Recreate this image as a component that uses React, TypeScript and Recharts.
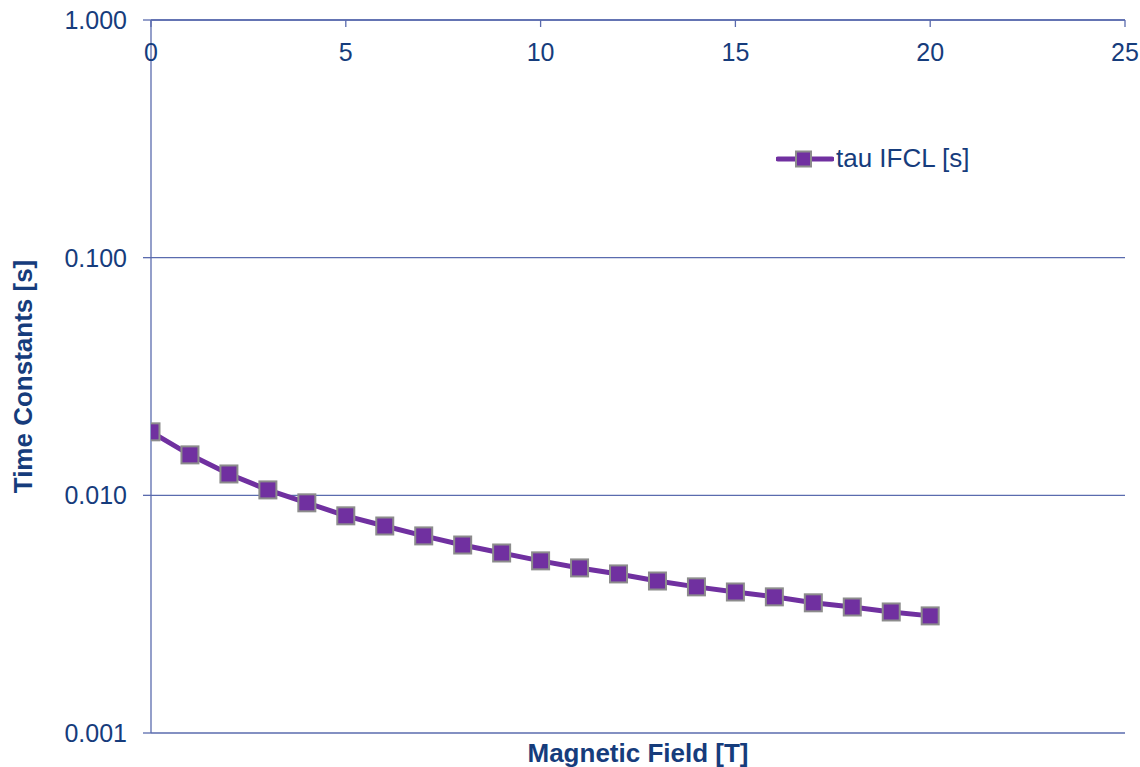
import React from "react";
import { LineChart, Line, XAxis, YAxis, CartesianGrid, Legend } from "recharts";

// Magnetic field (T) and IFCL time constant (s)
const fieldT = [0, 1, 2, 3, 4, 5, 6, 7, 8, 9, 10, 11, 12, 13, 14, 15, 16, 17, 18, 19, 20];
const tauIFCL = [
  0.0185, 0.0148, 0.0123, 0.01054, 0.0093, 0.0082, 0.00743, 0.00675, 0.00618, 0.00572,
  0.0053, 0.00495, 0.00467, 0.00436, 0.00412, 0.00392, 0.00374, 0.00353, 0.00339, 0.00323,
  0.00311,
];
const xTicks = [0, 5, 10, 15, 20, 25];
const yTicks = [0.001, 0.01, 0.1, 1];

const seriesName = "tau IFCL [s]";
const xTitle = "Magnetic Field [T]";
const yTitle = "Time Constants [s]";

const data = fieldT.map((b, i) => ({ b, tau: tauIFCL[i] }));

const AXIS = "#5A6BAE";
const TEXT = "#163C7C";
const PURPLE = "#7030A0";
const EDGE = "#8C8C8C";
const FONT = "'Liberation Sans', Arial, sans-serif";

const SquareDot = (props: any) => {
  const { cx, cy, index } = props;
  if (cx == null || cy == null) return null;
  const s = 17;
  return (
    <rect
      key={`dot-${index}`}
      x={cx - s / 2}
      y={cy - s / 2}
      width={s}
      height={s}
      fill={PURPLE}
      stroke={EDGE}
      strokeWidth={2}
    />
  );
};

// Top axis labels sit below the axis line, inside the plot
const TopTick = (props: any) => {
  const { x, y, payload } = props;
  return (
    <text x={x} y={y} dy={34} textAnchor="middle" fill={TEXT} fontFamily={FONT} fontSize={25}>
      {payload.value}
    </text>
  );
};

const LegendContent = () => (
  <div style={{ display: "flex", alignItems: "center", fontFamily: FONT, fontSize: 26, color: TEXT }}>
    <svg width={58} height={20} style={{ display: "block" }}>
      <line x1={2} y1={10} x2={56} y2={10} stroke={PURPLE} strokeWidth={5} strokeLinecap="round" />
      <rect x={20} y={2.5} width={15} height={15} fill={PURPLE} stroke={EDGE} strokeWidth={2} />
    </svg>
    <span style={{ marginLeft: 2, whiteSpace: "nowrap" }}>{seriesName}</span>
  </div>
);

export default function App() {
  return (
    <div style={{ position: "absolute", left: 0, top: 0, background: "#fff" }}>
      <LineChart
        width={1140}
        height={767}
        data={data}
        margin={{ top: 19, right: 15, bottom: 0, left: 0 }}
      >
        <CartesianGrid vertical={false} stroke={AXIS} strokeWidth={1.3} />
        <XAxis
          dataKey="b"
          type="number"
          orientation="top"
          height={1}
          domain={[0, 25]}
          ticks={xTicks}
          interval={0}
          stroke={AXIS}
          strokeWidth={1.3}
          tickSize={-7}
          tickMargin={0}
          tick={<TopTick />}
          allowDataOverflow
        />
        <XAxis
          xAxisId="title"
          orientation="bottom"
          type="number"
          domain={[0, 25]}
          height={34}
          tick={false}
          tickLine={false}
          axisLine={false}
          label={{
            content: ({ viewBox }: any) => (
              <text
                x={viewBox.x + viewBox.width / 2}
                y={viewBox.y + 29}
                textAnchor="middle"
                fill={TEXT}
                fontFamily={FONT}
                fontSize={26}
                fontWeight="bold"
              >
                {xTitle}
              </text>
            ),
          }}
        />
        <YAxis
          scale="log"
          type="number"
          domain={[0.001, 1]}
          ticks={yTicks}
          interval={0}
          allowDataOverflow
          width={151}
          stroke={AXIS}
          strokeWidth={1.3}
          tickSize={8}
          tickMargin={16}
          tickFormatter={(v: number) => v.toFixed(3)}
          tick={{ fill: TEXT, fontSize: 25, fontFamily: FONT }}
          label={{
            content: ({ viewBox }: any) => {
              const cx = viewBox.x + 23;
              const cy = viewBox.y + viewBox.height / 2;
              return (
                <text
                  x={cx}
                  y={cy}
                  transform={`rotate(-90, ${cx}, ${cy})`}
                  textAnchor="middle"
                  dominantBaseline="central"
                  fill={TEXT}
                  fontFamily={FONT}
                  fontSize={26}
                  fontWeight="bold"
                >
                  {yTitle}
                </text>
              );
            },
          }}
        />
        <Legend
          content={<LegendContent />}
          layout="vertical"
          align="center"
          verticalAlign="middle"
          wrapperStyle={{ position: "absolute", left: 776, top: 143, width: "auto" }}
        />
        <Line
          dataKey="tau"
          name={seriesName}
          stroke={PURPLE}
          strokeWidth={5}
          type="linear"
          dot={<SquareDot />}
          activeDot={false}
          isAnimationActive={false}
        />
      </LineChart>
    </div>
  );
}
